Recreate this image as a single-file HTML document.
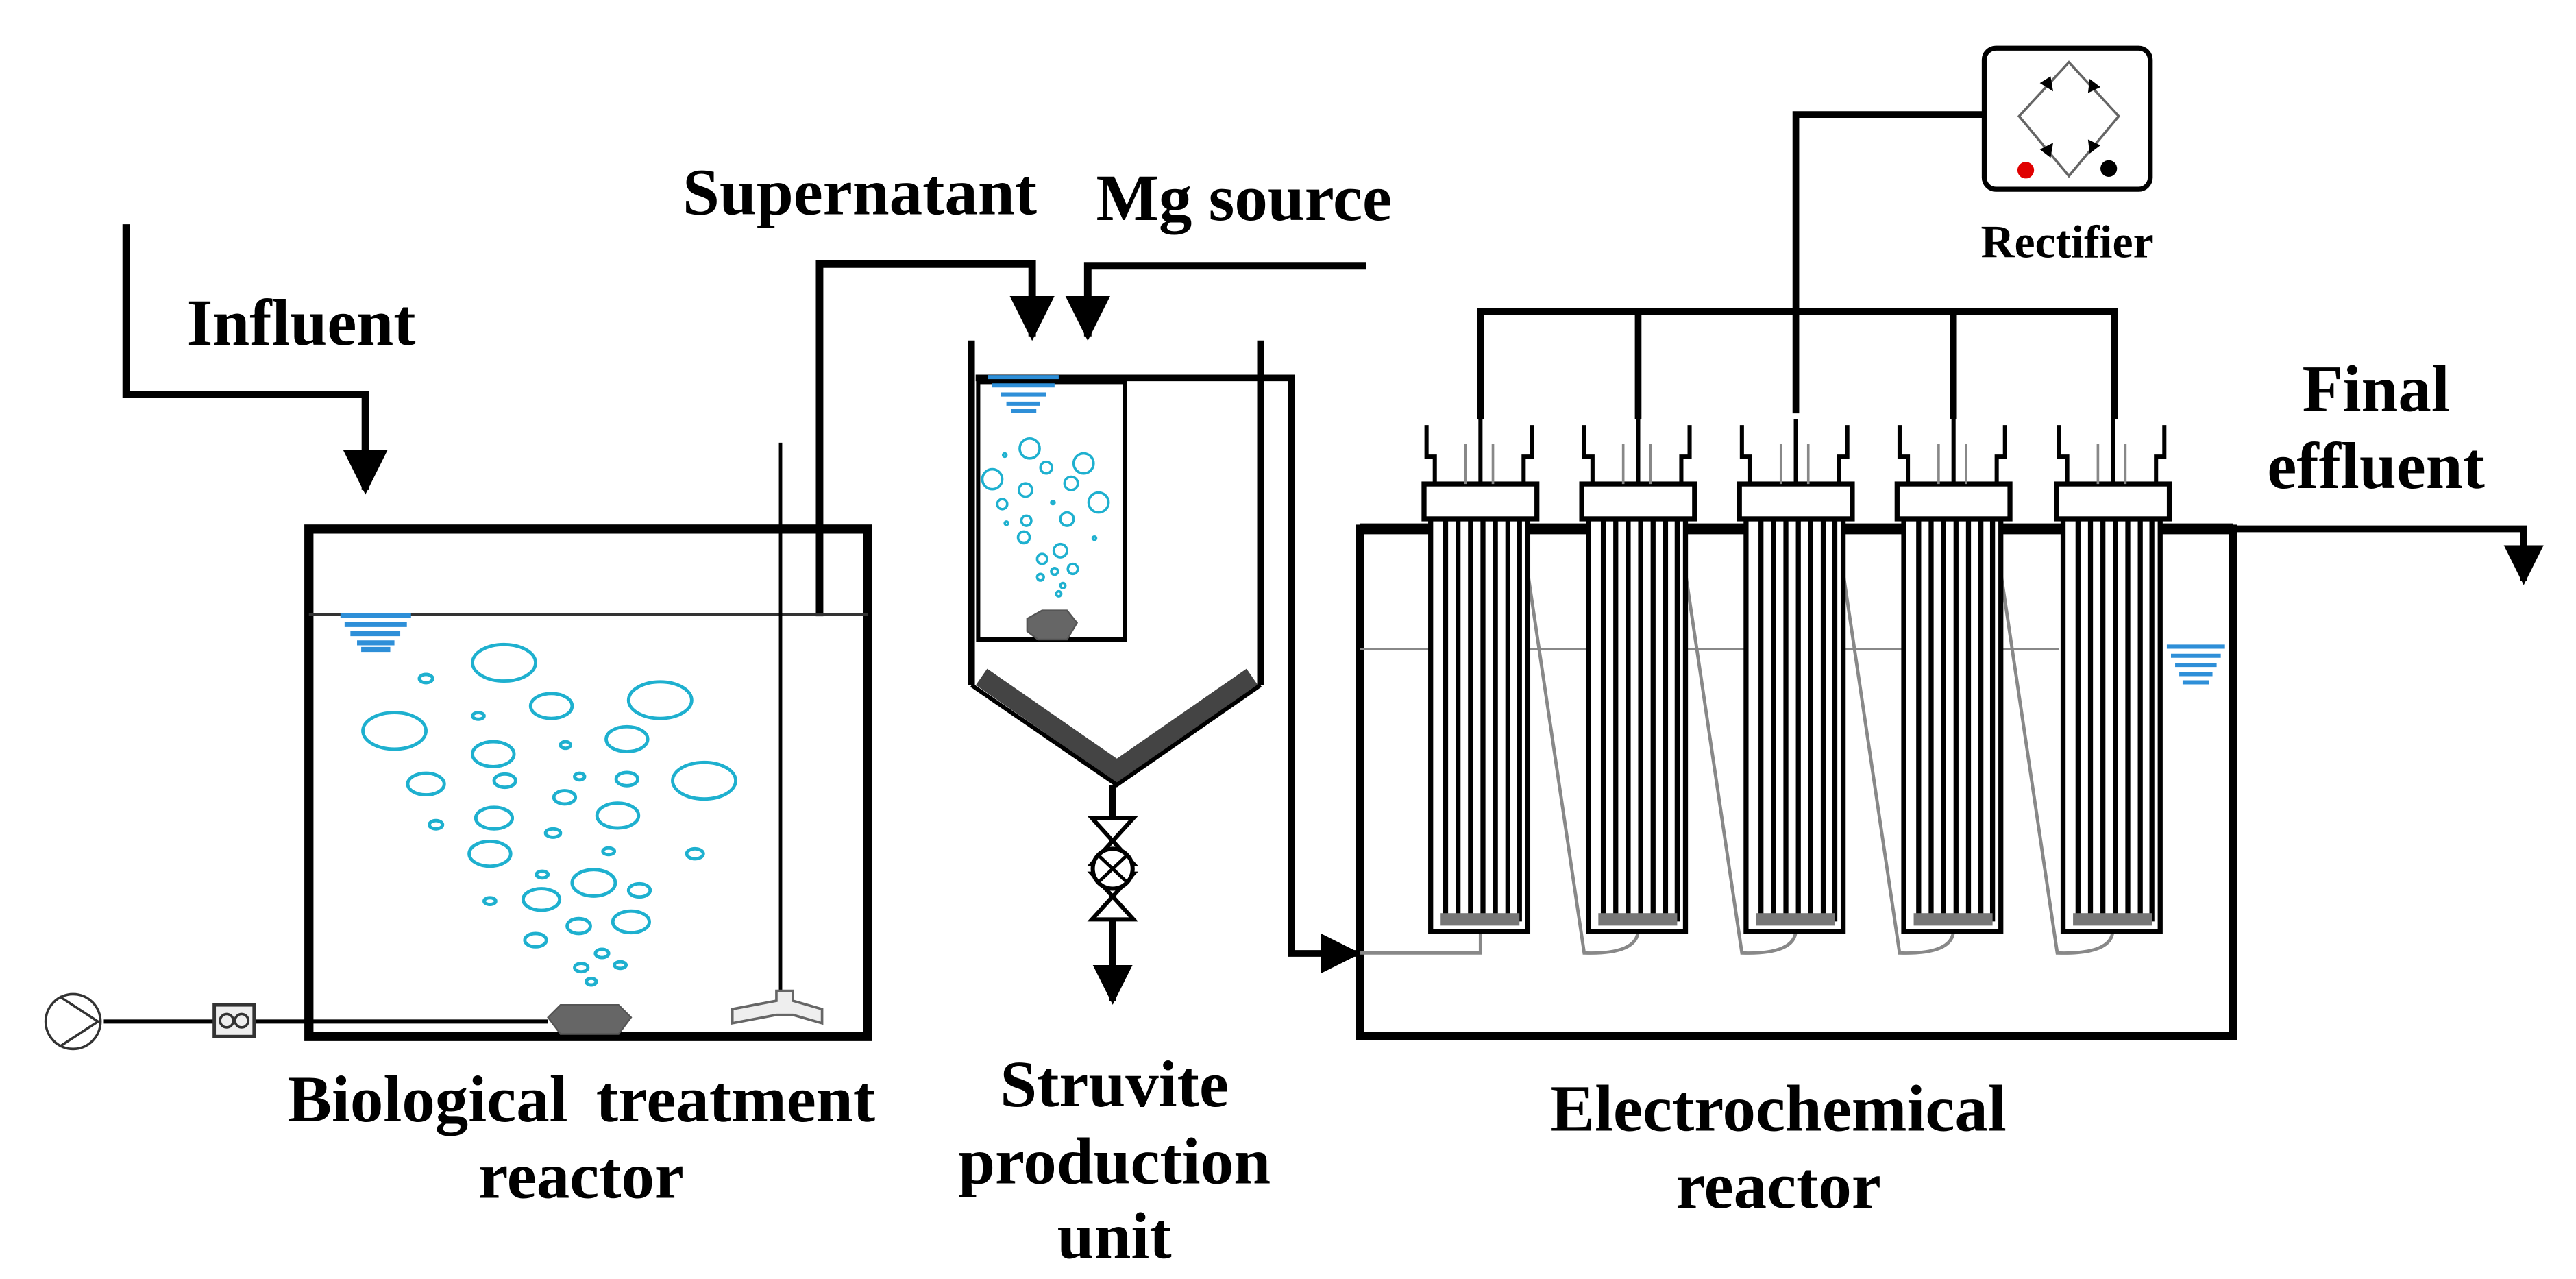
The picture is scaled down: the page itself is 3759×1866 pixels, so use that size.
<!DOCTYPE html>
<html><head><meta charset="utf-8"><style>
html,body{margin:0;padding:0;background:#fff}
svg{display:block}
text{font-family:"Liberation Serif",serif;font-weight:bold;fill:#000}
</style></head><body>
<svg width="3759" height="1866" viewBox="0 0 3759 1866" xmlns="http://www.w3.org/2000/svg">
<defs>
<marker id="ah" viewBox="0 0 10 10" refX="9" refY="5" markerWidth="6" markerHeight="6" markerUnits="strokeWidth" orient="auto">
<path d="M0,0 L10,5 L0,10 z" fill="#000"/></marker>
<g id="el" fill="none" stroke="#000">
<rect x="-60" y="625" width="117" height="497" fill="#fff" stroke-width="6"/>
<g stroke-width="6"><line x1="-42" y1="625" x2="-42" y2="1110"/><line x1="-27" y1="625" x2="-27" y2="1110"/><line x1="-12" y1="625" x2="-12" y2="1110"/><line x1="3" y1="625" x2="3" y2="1110"/><line x1="18" y1="625" x2="18" y2="1110"/><line x1="33" y1="625" x2="33" y2="1110"/><line x1="47" y1="625" x2="47" y2="1110"/></g>
<rect x="-48" y="1100" width="95" height="15" fill="#777" stroke="none"/>
<rect x="-68" y="583" width="136" height="42" fill="#fff" stroke-width="6"/>
<path d="M-65,512 V550 H-55 V583 M62,512 V550 H52 V583" stroke-width="5"/>
<path d="M-18,535 V583 M15,535 V583" stroke="#888" stroke-width="3"/>
<line x1="0" y1="505" x2="0" y2="583" stroke-width="5"/>
</g>
</defs>
<rect width="3759" height="1866" fill="#fff"/>
<g transform="scale(1.2117)" fill="none" stroke="#000" stroke-linejoin="miter">
<path d="M152,270 V475 H440 V590" stroke-width="9" marker-end="url(#ah)"/>
<path d="M987,742 V318 H1243 V405" stroke-width="9" marker-end="url(#ah)"/>
<path d="M1645,320 H1310 V405" stroke-width="9" marker-end="url(#ah)"/>
<path d="M1175,455 H1555 V1148 H1634" stroke-width="8" marker-end="url(#ah)"/>
<rect x="372" y="637" width="673" height="611" stroke-width="11"/>
<line x1="372" y1="740" x2="1045" y2="740" stroke-width="3" stroke="#333"/>
<line x1="940" y1="533" x2="940" y2="1195" stroke-width="4"/>
<path d="M882,1215 L935,1205 L935,1193 L955,1193 L955,1205 L990,1215 L990,1232 L955,1222 L935,1222 L882,1232 z" fill="#eee" stroke="#666" stroke-width="3"/>
<polygon points="660,1225 675,1210 745,1210 760,1225 745,1245 675,1245" fill="#666" stroke="#555" stroke-width="2"/>
<line x1="125" y1="1230" x2="660" y2="1230" stroke-width="5"/>
<circle cx="88" cy="1230" r="33" stroke="#333" stroke-width="3" fill="#fff"/>
<path d="M72,1200 L118,1230 L72,1260" stroke="#333" stroke-width="3"/>
<rect x="258" y="1210" width="48" height="38" fill="#eee" stroke="#333" stroke-width="4"/>
<circle cx="273" cy="1229" r="8" stroke="#333" stroke-width="3"/>
<circle cx="291" cy="1229" r="8" stroke="#333" stroke-width="3"/>
<g stroke="#2e8fd8" stroke-width="6">
<line x1="410" y1="741" x2="495" y2="741"/><line x1="415" y1="752" x2="490" y2="752"/><line x1="422" y1="763" x2="482" y2="763"/><line x1="430" y1="774" x2="475" y2="774"/><line x1="435" y1="782" x2="470" y2="782"/>
</g>
<g stroke="#1eb0cf" stroke-width="4">
<ellipse cx="607" cy="798" rx="38" ry="22"/><ellipse cx="795" cy="843" rx="38" ry="22"/><ellipse cx="475" cy="880" rx="38" ry="22"/><ellipse cx="848" cy="940" rx="38" ry="22"/>
<ellipse cx="664" cy="850" rx="25" ry="15"/><ellipse cx="755" cy="890" rx="25" ry="15"/><ellipse cx="594" cy="908" rx="25" ry="15"/><ellipse cx="513" cy="944" rx="22" ry="13"/>
<ellipse cx="608" cy="940" rx="13" ry="8"/><ellipse cx="755" cy="938" rx="13" ry="8"/><ellipse cx="595" cy="985" rx="22" ry="13"/><ellipse cx="744" cy="982" rx="25" ry="15"/>
<ellipse cx="590" cy="1028" rx="25" ry="15"/><ellipse cx="715" cy="1063" rx="26" ry="16"/><ellipse cx="652" cy="1083" rx="22" ry="13"/><ellipse cx="770" cy="1072" rx="13" ry="8"/>
<ellipse cx="760" cy="1110" rx="22" ry="13"/><ellipse cx="697" cy="1115" rx="14" ry="9"/><ellipse cx="645" cy="1132" rx="13" ry="8"/>
<ellipse cx="513" cy="817" rx="8" ry="5"/><ellipse cx="576" cy="862" rx="7" ry="4"/><ellipse cx="681" cy="897" rx="6" ry="4"/><ellipse cx="698" cy="935" rx="6" ry="4"/>
<ellipse cx="680" cy="960" rx="13" ry="8"/><ellipse cx="525" cy="993" rx="8" ry="5"/><ellipse cx="666" cy="1003" rx="9" ry="5"/><ellipse cx="733" cy="1025" rx="7" ry="4"/>
<ellipse cx="837" cy="1028" rx="10" ry="6"/><ellipse cx="653" cy="1053" rx="7" ry="4"/><ellipse cx="590" cy="1085" rx="7" ry="4"/><ellipse cx="725" cy="1148" rx="8" ry="5"/>
<ellipse cx="747" cy="1162" rx="7" ry="4"/><ellipse cx="700" cy="1165" rx="8" ry="5"/><ellipse cx="712" cy="1182" rx="6" ry="4"/>
</g>
<line x1="1170" y1="410" x2="1170" y2="825" stroke-width="8"/>
<line x1="1518" y1="410" x2="1518" y2="825" stroke-width="8"/>
<rect x="1178" y="460" width="177" height="310" stroke-width="5"/>
<polyline points="1182,815 1345,928 1508,815" stroke="#444" stroke-width="24"/>
<polyline points="1170,825 1345,945 1518,825" stroke-width="5"/>
<g stroke="#2e8fd8" stroke-width="5">
<line x1="1190" y1="454" x2="1275" y2="454"/><line x1="1195" y1="464" x2="1270" y2="464"/><line x1="1205" y1="475" x2="1260" y2="475"/><line x1="1212" y1="486" x2="1252" y2="486"/><line x1="1218" y1="495" x2="1248" y2="495"/>
</g>
<polygon points="1237,745 1255,735 1285,735 1297,750 1285,770 1250,770 1237,760" fill="#666" stroke="#555" stroke-width="2"/>
<g stroke="#1eb0cf" stroke-width="3">
<circle cx="1240" cy="540" r="12"/><circle cx="1305" cy="558" r="12"/><circle cx="1195" cy="577" r="12"/><circle cx="1323" cy="605" r="12"/><circle cx="1260" cy="563" r="7"/><circle cx="1290" cy="582" r="8"/><circle cx="1235" cy="590" r="8"/><circle cx="1207" cy="607" r="6"/><circle cx="1285" cy="625" r="8"/><circle cx="1236" cy="627" r="6"/><circle cx="1233" cy="647" r="7"/><circle cx="1277" cy="663" r="8"/><circle cx="1255" cy="673" r="6"/><circle cx="1292" cy="685" r="6"/><circle cx="1270" cy="688" r="4"/><circle cx="1253" cy="695" r="4"/><circle cx="1280" cy="705" r="3"/><circle cx="1275" cy="715" r="3"/><circle cx="1210" cy="548" r="2"/><circle cx="1268" cy="605" r="2"/><circle cx="1318" cy="648" r="2"/><circle cx="1212" cy="630" r="2"/>
</g>
<line x1="1340" y1="945" x2="1340" y2="1205" stroke-width="8" marker-end="url(#ah)"/>
<path d="M1315,985 L1365,985 L1315,1040 L1365,1040 z" fill="#fff" stroke-width="5"/>
<path d="M1315,1052 L1365,1052 L1315,1107 L1365,1107 z" fill="#fff" stroke-width="5"/>
<circle cx="1340" cy="1046" r="24" fill="#fff" stroke-width="5"/>
<path d="M1323,1030 L1357,1062 M1357,1030 L1323,1062" stroke-width="4"/>
</g>
<g fill="#000" stroke="none" font-size="80">
<text transform="scale(1.2117)" x="225" y="415">Influent</text>
<text transform="scale(1.2117)" x="822" y="258">Supernatant</text>
<text transform="scale(1.2117)" x="1320" y="265">Mg source</text>
<text transform="scale(1.2117)" x="700" y="1350" text-anchor="middle" word-spacing="14">Biological treatment</text>
<text transform="scale(1.2117)" x="700" y="1442" text-anchor="middle">reactor</text>
<text transform="scale(1.2117)" x="1342" y="1332" text-anchor="middle">Struvite</text>
<text transform="scale(1.2117)" x="1342" y="1425" text-anchor="middle">production</text>
<text transform="scale(1.2117)" x="1342" y="1515" text-anchor="middle">unit</text>
</g>
<g transform="translate(1860,0) scale(1.2111)" fill="none" stroke="#000">
<rect x="103" y="637" width="1052" height="611" stroke-width="10"/>
<line x1="103" y1="637" x2="1155" y2="637" stroke-width="13"/>
<line x1="103" y1="782" x2="945" y2="782" stroke-width="3" stroke="#888"/>
<path d="M1155,637 H1505 V700" stroke-width="8" marker-end="url(#ah)"/>
<g stroke="#2e8fd8" stroke-width="5">
<line x1="1075" y1="779" x2="1145" y2="779"/><line x1="1080" y1="790" x2="1140" y2="790"/><line x1="1085" y1="801" x2="1135" y2="801"/><line x1="1090" y1="812" x2="1130" y2="812"/><line x1="1094" y1="822" x2="1126" y2="822"/>
</g>
<g stroke="#888" stroke-width="4">
<path d="M103,1148 H248 V1120"/>
<path d="M305,690 L373,1148 Q438,1150 438,1120"/>
<path d="M495,690 L563,1148 Q628,1150 628,1120"/>
<path d="M685,690 L753,1148 Q818,1150 818,1120"/>
<path d="M875,690 L943,1148 Q1010,1150 1010,1120"/>
</g>
<path d="M248,505 V375 H1012 V505" stroke-width="8"/>
<line x1="438" y1="375" x2="438" y2="505" stroke-width="8"/>
<line x1="818" y1="375" x2="818" y2="505" stroke-width="8"/>
<path d="M628,498 V138 H855" stroke-width="8"/>
<use href="#el" transform="translate(248,0)"/>
<use href="#el" transform="translate(438,0)"/>
<use href="#el" transform="translate(628,0)"/>
<use href="#el" transform="translate(818,0)"/>
<use href="#el" transform="translate(1010,0)"/>
<rect x="855" y="58" width="200" height="170" rx="14" fill="#fff" stroke-width="6"/>
<polygon points="957,75 1017,140 957,212 897,140" stroke="#666" stroke-width="3"/>
<g fill="#000" stroke="none">
<polygon points="922,100 935,92 938,110"/><polygon points="982,95 995,105 980,112"/>
<polygon points="922,180 935,190 938,172"/><polygon points="982,185 995,175 980,168"/>
</g>
<circle cx="905" cy="205" r="10" fill="#e00000" stroke="none"/>
<circle cx="1005" cy="203" r="10" fill="#000" stroke="none"/>
</g>
<g fill="#000" stroke="none">
<text transform="translate(1860,0) scale(1.2111)" x="955" y="310" text-anchor="middle" font-size="56">Rectifier</text>
<text transform="translate(1860,0) scale(1.2111)" x="1327" y="495" text-anchor="middle" font-size="80">Final</text>
<text transform="translate(1860,0) scale(1.2111)" x="1327" y="588" text-anchor="middle" font-size="80">effluent</text>
<text transform="translate(1860,0) scale(1.2111)" x="607" y="1362" text-anchor="middle" font-size="80">Electrochemical</text>
<text transform="translate(1860,0) scale(1.2111)" x="607" y="1455" text-anchor="middle" font-size="80">reactor</text>
</g>
</svg>
</body></html>
